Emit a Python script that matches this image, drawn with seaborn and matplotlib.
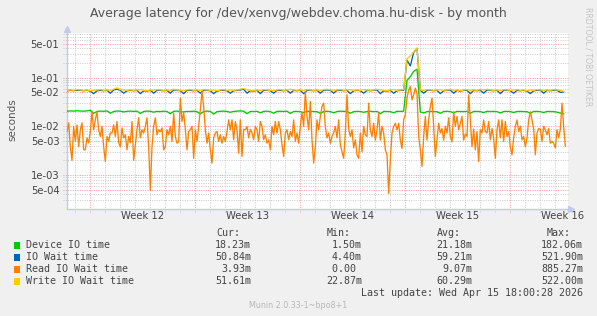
import numpy as np
import pandas as pd
import matplotlib
matplotlib.use("Agg")
import matplotlib.pyplot as plt
import seaborn as sns
from matplotlib.patches import Rectangle
from matplotlib.ticker import NullLocator

# ---------------- data (milliseconds) ----------------
# Read IO wait time, sampled every 1/9 day
read_ms = [
    7.8, 11.8, 3.8, 2.0, 10, 4.9, 10.7, 3.8, 8.5, 11.8,
    3.3, 3.3, 5.8, 4.6, 7.8, 20, 8.5, 13.6, 20, 8.5,
    6.2, 10, 3.8, 1.9, 6.2, 4.9, 7.3, 7.3, 10.7, 6.2,
    12.6, 4.6, 3.8, 9.3, 5.8, 6.7, 3.3, 6.2, 4.6, 12.6,
    2.0, 4.2, 8.5, 15, 5.8, 8.5, 7.3, 10, 15, 3.6,
    0.49, 3.8, 10, 15, 6.7, 8.5, 7.8, 9.3, 3.3, 3.8,
    8.5, 6.7, 10, 4.9, 18.7, 6.2, 4.5, 4.9, 38, 12.6,
    19, 8.7, 3.3, 7.8, 8.5, 10, 2.2, 8.5, 4.9, 10,
    22, 52, 25.6, 8.5, 4.5, 7.3, 3.3, 1.75, 5.8, 7.3,
    7.8, 4.9, 6.7, 4.5, 6.2, 4.9, 7.8, 13.6, 8.5, 13.6,
    5.3, 12.6, 8.5, 2.8, 13.6, 2.4, 8.7, 8.5, 10, 5.8,
    8.7, 7.3, 5.3, 10, 8.5, 4.9, 12.6, 10, 5.3, 6.7,
    4.5, 5.3, 3.3, 10, 6.7, 12.6, 7.3, 12.6, 8.5, 4.2,
    2.4, 7.3, 8.5, 5.3, 7.8, 6.2, 13.6, 4.9, 7.3, 4.5,
    10, 19, 10, 52, 16, 8.5, 32.5, 5.3, 1.75, 3.8,
    13.6, 8.5, 16, 25.6, 30, 10, 5.8, 7.3, 4.5, 6.2,
    7.3, 10, 5.8, 13.6, 4.2, 3.0, 2.2, 7.3, 44.6, 8.7,
    6.2, 8.5, 3.6, 5.3, 2.6, 2.2, 7.3, 3.0, 10, 6.7,
    6.2, 30, 8.5, 6.2, 11.6, 5.2, 8.5, 18.7, 5.2, 10,
    7.3, 3.3, 2.6, 0.42, 2.0, 7.3, 10, 11.6, 8.5, 11.6,
    5.2, 3.5, 13.6, 17.3, 38, 56, 66, 35, 44.6, 61,
    48, 6.2, 3.3, 1.5, 6.2, 16, 5.2, 13.6, 25.6, 38,
    10, 2.4, 5.2, 11.6, 7.3, 9, 5.2, 10, 7.3, 15,
    6.2, 4.8, 20, 10, 16, 8.5, 11.6, 16, 5.2, 7,
    6.2, 44.6, 13.6, 3.8, 8.7, 3.3, 7.8, 1.9, 8.5, 7.3,
    13.6, 7.8, 7.3, 12.6, 5.3, 9, 5.8, 2.2, 8.5, 13.6,
    5.8, 13.6, 4.9, 12.6, 6.2, 7.8, 3.8, 2.6, 5.8, 10,
    13.6, 7.8, 10, 5.3, 6.2, 3.8, 5.8, 13.6, 20, 13.6,
    9, 2.6, 7.3, 9, 8.7, 4.9, 10, 8.5, 6.7, 9,
    4.5, 4.9, 4.5, 3.6, 8.5, 5.8, 8.7, 30, 10, 3.9,
]

# Device IO / IO wait / write IO wait, sampled every 2/9 day
device_ms = [
    20.5, 20.8, 20.6, 20.9, 20.7, 20.5, 20.8, 21.5, 18.5, 20.3,
    20.6, 20.4, 20.8, 18.6, 20.2, 20.7, 20.5, 19.8, 20.4, 20.6,
    20.3, 20.5, 18.4, 20.2, 20.6, 20.4, 19.6, 20.3, 20.1, 20.5,
    20.2, 18.2, 20.4, 20.6, 20.1, 19.8, 20.3, 20.2, 20.5, 20.0,
    18.0, 20.2, 20.6, 20.3, 17.8, 20.1, 20.4, 20.6, 20.2, 19.5,
    20.3, 20.6, 20.8, 20.5, 18.2, 20.3, 20.2, 20.4, 19.0, 20.3,
    20.5, 20.1, 18.6, 20.3, 20.4, 20.2, 20.5, 18.4, 20.2, 20.3,
    20.1, 19.2, 20.3, 20.4, 20.2, 20.0, 18.5, 20.2, 20.4, 20.1,
    19.0, 20.2, 20.5, 20.3, 20.2, 18.6, 20.1, 20.3, 20.2, 19.5,
    20.2, 20.4, 20.1, 20.3, 18.2, 20.3, 20.2, 20.1, 19.0, 20.4,
    20.3, 20.5, 88, 105, 135, 150, 19.8, 18.8, 20.1, 20.3,
    20.2, 20.0, 18.5, 20.2, 20.4, 20.1, 19.0, 20.3, 20.2, 20.1,
    20.4, 18.6, 20.2, 20.3, 20.1, 19.2, 20.4, 20.2, 20.3, 20.1,
    18.8, 20.2, 20.4, 20.1, 19.3, 20.2, 20.3, 20.1, 20.0, 18.7,
    20.2, 20.3, 20.1, 19.2, 20.3, 20.2, 20.1, 19.6, 18.8, 18.2,
]
iowait_ms = [
    54, 55, 54, 55, 55, 54, 55, 53, 47, 54,
    55, 54, 55, 48, 56, 58, 55, 48, 54, 55,
    54, 55, 47, 54, 53, 55, 48, 55, 55, 54,
    55, 48, 56, 55, 54, 47, 55, 55, 54, 55,
    48, 55, 55, 54, 47, 53, 55, 55, 54, 48,
    54, 55, 56, 58, 48, 54, 53, 55, 47, 55,
    55, 54, 48, 55, 55, 54, 55, 48, 55, 54,
    55, 47, 55, 55, 54, 55, 48, 55, 56, 55,
    48, 55, 55, 54, 55, 47, 54, 55, 54, 48,
    55, 54, 55, 56, 47, 54, 53, 55, 48, 54,
    55, 55, 230, 175, 330, 400, 55, 48, 55, 55,
    54, 55, 47, 54, 55, 56, 48, 55, 53, 55,
    55, 47, 55, 54, 55, 48, 56, 55, 54, 55,
    47, 55, 55, 54, 48, 55, 54, 55, 53, 47,
    54, 55, 55, 48, 55, 54, 55, 55, 50, 51,
]
write_ms = [
    55, 56, 55, 57, 56, 55, 56, 54, 55, 56,
    57, 55, 56, 55, 58, 62, 57, 56, 55, 56,
    55, 56, 57, 55, 54, 56, 55, 57, 56, 55,
    56, 55, 58, 56, 55, 54, 56, 57, 55, 56,
    55, 57, 56, 55, 56, 54, 56, 57, 55, 56,
    55, 56, 58, 60, 56, 55, 54, 56, 55, 57,
    56, 55, 54, 56, 57, 55, 56, 58, 56, 55,
    56, 55, 57, 56, 55, 56, 54, 57, 58, 56,
    55, 56, 57, 55, 56, 57, 55, 56, 55, 57,
    56, 55, 56, 58, 56, 55, 54, 56, 57, 55,
    56, 57, 245, 280, 340, 410, 56, 55, 57, 56,
    55, 56, 57, 55, 56, 58, 55, 56, 54, 56,
    57, 55, 56, 55, 57, 56, 58, 56, 55, 56,
    55, 57, 56, 55, 56, 57, 55, 56, 54, 56,
    55, 57, 56, 55, 56, 55, 57, 56, 55, 52,
]

week_labels = ["Week 12", "Week 13", "Week 14", "Week 15", "Week 16"]
series_names = ["Device IO time", "IO Wait time", "Read IO Wait time", "Write IO Wait time"]
series_colors = ["#00CC00", "#0066B3", "#FF8000", "#FFCC00"]
cur_vals = ["18.23m", "50.84m", "3.93m", "51.61m"]
min_vals = ["1.50m", "4.40m", "0.00 ", "22.87m"]
avg_vals = ["21.18m", "59.21m", "9.07m", "60.29m"]
max_vals = ["182.06m", "521.90m", "885.27m", "522.00m"]
ytick_vals = [5e-01, 1e-01, 5e-02, 1e-02, 5e-03, 1e-03, 5e-04]
title = "Average latency for /dev/xenvg/webdev.choma.hu-disk - by month"
last_update = "Last update: Wed Apr 15 18:00:28 2026"
munin_ver = "Munin 2.0.33-1~bpo8+1"

# ---------------- time axis (days since Monday of Week 12) ----------------
START_DAY = -23 / 15
t_fine = START_DAY + np.arange(len(read_ms)) / 9
t_coarse = START_DAY + np.arange(len(device_ms)) * 2 / 9

df_fine = pd.DataFrame({"day": t_fine, "Read IO Wait time": np.array(read_ms) / 1000})
df_coarse = pd.DataFrame({
    "day": t_coarse,
    "Device IO time": np.array(device_ms) / 1000,
    "IO Wait time": np.array(iowait_ms) / 1000,
    "Write IO Wait time": np.array(write_ms) / 1000,
})

W, H = 597, 316
BG = "#F0F0F0"
plt.rcParams["font.family"] = ["DejaVu Sans"]

fig = plt.figure(figsize=(W / 100, H / 100), dpi=100, facecolor=BG)
L, R, T, B = 67, 568, 33, 209
ax = fig.add_axes([L / W, 1 - B / H, (R - L) / W, (B - T) / H])
ax.set_facecolor("white")

XMAX = (R - 90) / 15
ax.set_xlim(START_DAY, XMAX)
ax.set_yscale("log")
ax.set_ylim(2.0e-4, 0.83)

# grid
GRAY = "#C9C9C9"
RED = "#EE9A9A"
dot = (0, (1, 1.4))
for d in range(-1, 32):
    col = RED if d % 7 == 0 else GRAY
    ax.axvline(d, ymin=-0.015, ymax=1, color=col, lw=0.7, ls=dot, zorder=1, clip_on=False)
for e in range(-4, 1):
    for m in range(1, 10):
        v = m * 10.0 ** e
        if 2.0e-4 < v < 0.83:
            col = RED if m in (1, 5) else GRAY
            ax.axhline(v, xmin=-0.008, xmax=1, color=col, lw=0.7, ls=dot, zorder=1, clip_on=False)

# series (draw order as in munin)
lw = 0.95
sns.lineplot(data=df_coarse, x="day", y="Device IO time", color=series_colors[0], lw=lw, ax=ax, zorder=3)
sns.lineplot(data=df_coarse, x="day", y="IO Wait time", color=series_colors[1], lw=lw, ax=ax, zorder=4)
sns.lineplot(data=df_fine, x="day", y="Read IO Wait time", color=series_colors[2], lw=lw, ax=ax, zorder=5)
sns.lineplot(data=df_coarse, x="day", y="Write IO Wait time", color=series_colors[3], lw=lw, ax=ax, zorder=6)

# axes styling
for s in ["top", "right"]:
    ax.spines[s].set_visible(False)
AXC = "#C4C8EC"
ax.spines["left"].set_color(AXC)
ax.spines["bottom"].set_color(AXC)
ax.spines["left"].set_linewidth(1.0)
ax.spines["bottom"].set_linewidth(1.0)
ax.plot([1.0, 1.006], [0, 0], transform=ax.transAxes, color=AXC, lw=1.0, clip_on=False)
ax.plot([1.006], [0], marker=">", ms=4, color=AXC, transform=ax.transAxes, clip_on=False)
ax.plot([0], [1.025], marker="^", ms=4, color=AXC, transform=ax.transAxes, clip_on=False)
ax.plot([0, 0], [1.0, 1.025], transform=ax.transAxes, color=AXC, lw=1.0, clip_on=False)

ax.set_xlabel("")
ax.set_ylabel("")
ax.set_xticks([])
ax.yaxis.set_minor_locator(NullLocator())
ax.set_yticks(ytick_vals)
ax.set_yticklabels(["{:.0e}".format(v) for v in ytick_vals], fontsize=7.2, color="#444444")
ax.tick_params(axis="y", length=0, pad=5.5)

TXT = "#444444"
for i, lab in enumerate(week_labels):
    xc = 90 + 52.5 + 105 * i
    fig.text(xc / W, 1 - 216 / H, lab, ha="center", va="center", fontsize=7.2, color=TXT)

fig.text(298 / W, 1 - 14 / H, title, ha="center", va="center", fontsize=9.0, color="#555555")
fig.text(12 / W, 1 - 120 / H, "seconds", ha="center", va="center", rotation=90, fontsize=7.5, color="#555555")
fig.text(588 / W, 1 - 57 / H, "RRDTOOL / TOBI OETIKER", ha="center", va="center", rotation=270,
         fontsize=5.6, color="#C4C4C4")

# legend table
MONO = ["DejaVu Sans Mono"]
FS = 7.2
hdr_y = 233
fig.text(216 / W, 1 - hdr_y / H, "Cur:", ha="left", va="center", fontsize=FS, family=MONO, color=TXT)
fig.text(327 / W, 1 - hdr_y / H, "Min:", ha="left", va="center", fontsize=FS, family=MONO, color=TXT)
fig.text(437 / W, 1 - hdr_y / H, "Avg:", ha="left", va="center", fontsize=FS, family=MONO, color=TXT)
fig.text(547 / W, 1 - hdr_y / H, "Max:", ha="left", va="center", fontsize=FS, family=MONO, color=TXT)
rows_y = [245.5, 257.5, 269.5, 281.5]
for i, name in enumerate(series_names):
    y = 1 - rows_y[i] / H
    fig.patches.append(Rectangle((13.5 / W, y - 3.3 / H), 6.5 / W, 6.5 / H, transform=fig.transFigure,
                                 facecolor=series_colors[i], edgecolor="none"))
    fig.text(26 / W, y, name, ha="left", va="center", fontsize=FS, family=MONO, color=TXT)
    fig.text(251 / W, y, cur_vals[i], ha="right", va="center", fontsize=FS, family=MONO, color=TXT)
    fig.text(362 / W, y, min_vals[i], ha="right", va="center", fontsize=FS, family=MONO, color=TXT)
    fig.text(472 / W, y, avg_vals[i], ha="right", va="center", fontsize=FS, family=MONO, color=TXT)
    fig.text(583 / W, y, max_vals[i], ha="right", va="center", fontsize=FS, family=MONO, color=TXT)
fig.text(583 / W, 1 - 293.5 / H, last_update, ha="right", va="center", fontsize=FS, family=MONO, color=TXT)
fig.text(298 / W, 1 - 305 / H, munin_ver, ha="center", va="center", fontsize=5.8, color="#B8B8B8")

fig.savefig("out.png", dpi=100, facecolor=BG)
